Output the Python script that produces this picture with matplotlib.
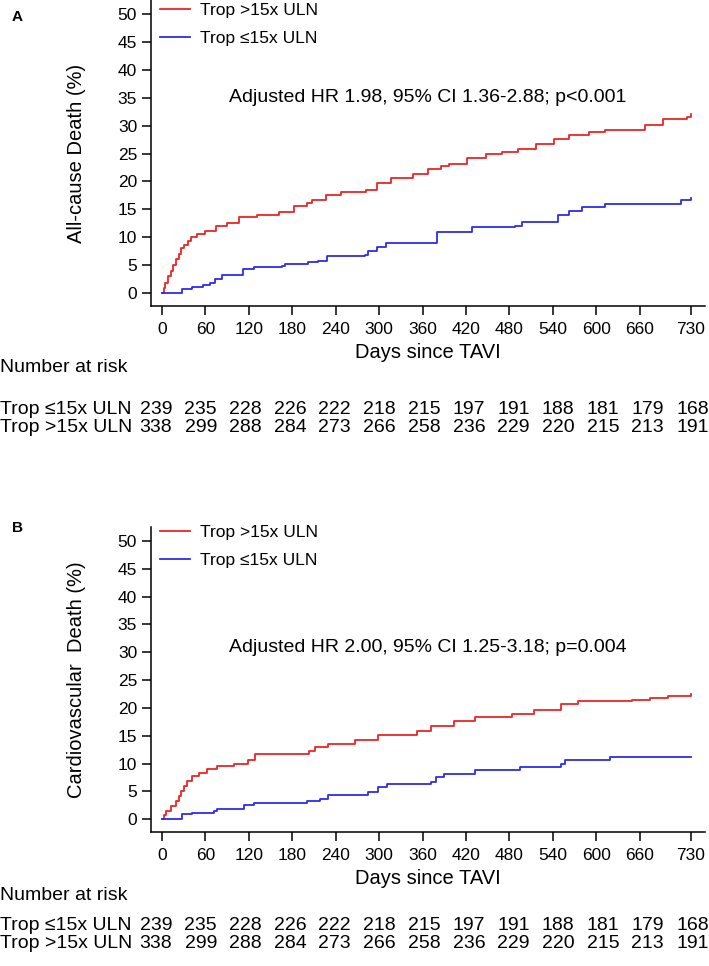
import matplotlib
matplotlib.use("Agg")
import matplotlib.pyplot as plt

# Cumulative incidence (days since TAVI, %)
days_all_hi = [0, 3, 5, 9, 13, 16, 20, 23, 27, 31, 36, 40, 48, 60, 75, 90, 107, 132, 162,
               182, 200, 207, 227, 247, 282, 297, 317, 347, 367, 385, 397, 422, 447, 470,
               492, 517, 542, 562, 590, 612, 667, 692, 725, 730]
pct_all_hi = [0, 1.0, 1.8, 3.0, 3.9, 5.1, 6.2, 7.0, 8.0, 8.6, 9.3, 10.1, 10.6, 11.2, 12.0,
              12.6, 13.6, 14.0, 14.6, 15.6, 16.2, 16.7, 17.5, 18.1, 18.5, 19.8, 20.7, 21.3,
              22.3, 22.8, 23.2, 24.2, 24.9, 25.3, 25.9, 26.7, 27.6, 28.4, 28.8, 29.3, 30.1,
              31.2, 31.6, 32.0]
days_all_lo = [0, 24, 28, 41, 57, 67, 74, 83, 112, 127, 166, 170, 202, 216, 228, 281, 284,
               297, 310, 380, 428, 487, 497, 547, 562, 580, 612, 717, 730]
pct_all_lo = [0, 0, 0.7, 1.1, 1.4, 1.9, 2.5, 3.3, 4.3, 4.6, 4.9, 5.2, 5.5, 5.8, 6.7, 6.9,
              7.6, 8.2, 9.0, 11.0, 11.8, 12.1, 12.7, 14.0, 14.8, 15.5, 16.0, 16.6, 17.0]

days_cv_hi = [0, 3, 6, 12, 19, 23, 26, 30, 35, 42, 51, 62, 76, 100, 119, 128, 203, 211,
              230, 267, 298, 353, 372, 403, 433, 483, 514, 551, 575, 649, 674, 699, 730]
pct_cv_hi = [0, 0.8, 1.4, 2.3, 3.2, 4.2, 5.1, 6.0, 6.9, 7.8, 8.3, 9.0, 9.5, 10.0, 10.6,
             11.7, 12.3, 12.9, 13.5, 14.2, 15.2, 15.8, 16.7, 17.6, 18.4, 18.9, 19.7, 20.7,
             21.2, 21.5, 21.8, 22.2, 22.5]
days_cv_lo = [0, 24, 28, 42, 72, 76, 114, 127, 200, 219, 229, 284, 298, 311, 372, 378,
              390, 433, 495, 551, 557, 619, 730]
pct_cv_lo = [0, 0, 0.9, 1.2, 1.5, 1.8, 2.6, 2.9, 3.3, 3.7, 4.4, 4.9, 5.7, 6.4, 6.6, 7.6,
             8.2, 8.8, 9.4, 9.9, 10.6, 11.2, 11.2]

xticks = [0, 60, 120, 180, 240, 300, 360, 420, 480, 540, 600, 660, 730]
risk_lo = [239, 235, 228, 226, 222, 218, 215, 197, 191, 188, 181, 179, 168]
risk_hi = [338, 299, 288, 284, 273, 266, 258, 236, 229, 220, 215, 213, 191]

label_hi = "Trop >15x ULN"
label_lo = "Trop \u226415x ULN"

RED = "#ec2424"
BLUE = "#2c2cec"

plt.rcParams['font.family'] = ['Liberation Sans', 'DejaVu Sans']

W, H = 709, 966
fig = plt.figure(figsize=(W / 100, H / 100), dpi=100, facecolor='white')


def fx(px):
    return px / W


def fy(py):
    return 1 - py / H


def panel(top, bottom, letter, ylabel, hr_text, d_hi, p_hi, d_lo, p_lo,
          y_letter, y_leg, y_hr, y_days, y_num, y_rows):
    ax = fig.add_axes([fx(151), fy(bottom), fx(705) - fx(151), (bottom - top) / H])
    ax.step(d_hi, p_hi, where='post', color=RED, lw=1.3, label=label_hi)
    ax.step(d_lo, p_lo, where='post', color=BLUE, lw=1.3, label=label_lo)
    ax.set_xlim(-15, 750)
    ax.set_ylim(-2.3, 52.5)
    ax.set_xticks(xticks)
    ax.set_yticks(range(0, 55, 5))
    for s in ['top', 'right']:
        ax.spines[s].set_visible(False)
    for s in ['left', 'bottom']:
        ax.spines[s].set_linewidth(1.1)
    ax.tick_params(direction='out', length=6.5, width=1.1, labelsize=12.5, pad=3.5)
    ax.tick_params(axis='x', pad=5)
    leg = ax.legend(loc='upper left', bbox_to_anchor=(fx(160), fy(y_leg)),
                    bbox_transform=fig.transFigure, frameon=False, fontsize=12.5,
                    handlelength=1.72, handletextpad=0.57, labelspacing=0.72,
                    borderpad=0, borderaxespad=0)
    for line in leg.get_lines():
        line.set_linewidth(1.3)

    fig.text(fx(12), fy(y_letter), letter, fontsize=11, fontweight='bold',
             ha='left', va='center')
    fig.text(0.5 * (fx(151) + fx(705)), fy(y_hr), hr_text, fontsize=14,
             ha='center', va='center')
    fig.text(fx(76), fy((top + bottom) / 2), ylabel, rotation=90, fontsize=14.5,
             ha='center', va='center')
    fig.text(fx(428), fy(y_days), "Days since TAVI", fontsize=14.5,
             ha='center', va='center')
    fig.text(fx(0), fy(y_num), "Number at risk", fontsize=14,
             ha='left', va='center')
    for row, (name, vals) in enumerate([(label_lo, risk_lo), (label_hi, risk_hi)]):
        y = fy(y_rows + row * 19)
        fig.text(fx(0), y, name, fontsize=14, ha='left', va='center')
        for i, v in enumerate(vals):
            fig.text(fx(156 + i * 44.7), y, str(v), fontsize=14, ha='center', va='center')
    return ax


panel(0, 306, "A", "All-cause Death (%)",
      "Adjusted HR 1.98, 95% CI 1.36-2.88; p<0.001",
      days_all_hi, pct_all_hi, days_all_lo, pct_all_lo,
      17, 3, 98, 352, 368, 409)
panel(527, 832, "B", "Cardiovascular  Death (%)",
      "Adjusted HR 2.00, 95% CI 1.25-3.18; p=0.004",
      days_cv_hi, pct_cv_hi, days_cv_lo, pct_cv_lo,
      528, 525, 648, 878, 896, 925)

fig.savefig("out.png", dpi=100, facecolor='white')
